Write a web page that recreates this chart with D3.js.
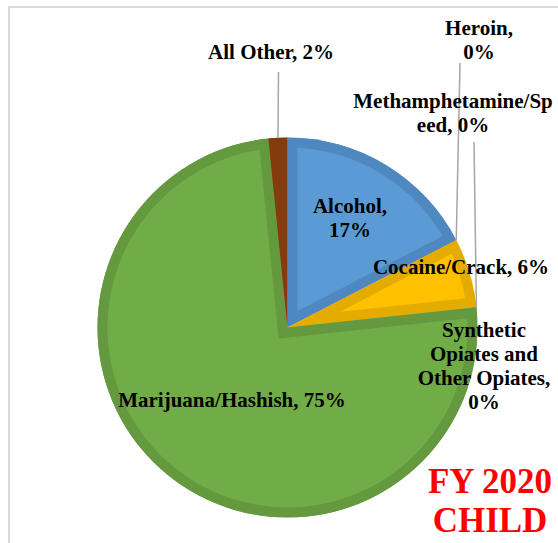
<!DOCTYPE html>
<html>
<head>
<meta charset="utf-8">
<script src="https://cdn.jsdelivr.net/npm/d3@7"></script>
<style>
  html, body { margin: 0; padding: 0; background: #fff; }
  svg { display: block; }
  text { font-family: "Liberation Serif", "Times New Roman", serif; font-weight: bold; }
</style>
</head>
<body>
<svg id="chart" width="558" height="543"></svg>
<script>
// ---- data ----
const categories = ["Alcohol", "Heroin", "Cocaine/Crack", "Methamphetamine/Speed",
                    "Synthetic Opiates and Other Opiates", "Marijuana/Hashish", "All Other"];
const values = [17.4, 0, 5.9, 0, 0, 75.1, 1.6];
const titleLines = ["FY 2020", "CHILD"];

// ---- styles ----
const fills = ["#5b9bd5", "#4472c4", "#ffc000", "#a5a5a5", "#ed7d31", "#70ad47", "#8f410f"];
const bands = ["#4f88c0", "#3b64ad", "#e5ac00", "#939393", "#d46f2b", "#64993f", "#843b0d"];

// label layout (text lines, anchor position, optional leader start)
const labelLayout = {
  "Alcohol": { lines: ["Alcohol,", "{p}"], x: 350, y: 213 },
  "Heroin": { lines: ["Heroin,", "{p}"], x: 479, y: 35, leader: [460, 63] },
  "Cocaine/Crack": { lines: ["Cocaine/Crack, {p}"], x: 461, y: 274 },
  "Methamphetamine/Speed": { lines: ["Methamphetamine/Sp", "eed, {p}"], x: 453, y: 108, leader: [474, 142] },
  "Synthetic Opiates and Other Opiates": { lines: ["Synthetic", "Opiates and", "Other Opiates,", "{p}"], x: 484, y: 337 },
  "Marijuana/Hashish": { lines: ["Marijuana/Hashish, {p}"], x: 232, y: 407 },
  "All Other": { lines: ["All Other, {p}"], x: 271, y: 59, leader: [278.5, 72] }
};

const svg = d3.select("#chart");
const W = 558, H = 543;
const cx = 287.5, cy = 327.5, R = 190;
const fontSize = 21, lineH = 24;

// chart border
svg.append("rect")
  .attr("x", 9).attr("y", 7)
  .attr("width", W + 20).attr("height", H + 20)
  .attr("fill", "none").attr("stroke", "#d9d9d9").attr("stroke-width", 2);

const total = d3.sum(values);
const data = categories.map((c, i) => ({ name: c, value: values[i], i }));

const pie = d3.pie().sort(null).value(d => d.value).startAngle(0).endAngle(2 * Math.PI);
const arcs = pie(data);
const arc = d3.arc().innerRadius(0).outerRadius(R);

const g = svg.append("g").attr("transform", `translate(${cx},${cy})`);
const defs = svg.append("defs");

arcs.forEach((a, k) => {
  if (a.data.value <= 0) return;
  const id = "clip" + k;
  defs.append("clipPath").attr("id", id)
    .attr("transform", `translate(${cx},${cy})`)
    .append("path").attr("d", arc(a));
  g.append("path")
    .attr("d", arc(a))
    .attr("fill", fills[a.data.i]);
  g.append("path")
    .attr("d", arc(a))
    .attr("fill", "none")
    .attr("stroke", bands[a.data.i])
    .attr("stroke-width", 20)
    .attr("stroke-linejoin", "miter")
    .attr("clip-path", `url(#${id})`)
    .attr("transform", null);
});

// fix clip-path coordinate systems: put clip inside group's coords
defs.selectAll("clipPath").attr("transform", null);

// leader lines
const pointOnArc = (angle, r) => [cx + r * Math.sin(angle), cy - r * Math.cos(angle)];
arcs.forEach(a => {
  const L = labelLayout[a.data.name];
  if (!L || !L.leader) return;
  const mid = (a.startAngle + a.endAngle) / 2;
  const [px, py] = pointOnArc(mid, R);
  svg.append("line")
    .attr("x1", L.leader[0]).attr("y1", L.leader[1])
    .attr("x2", px).attr("y2", py)
    .attr("stroke", "#a6a6a6").attr("stroke-width", 1.5);
});

// labels
arcs.forEach(a => {
  const L = labelLayout[a.data.name];
  const pct = Math.round(a.data.value / total * 100) + "%";
  const t = svg.append("text")
    .attr("text-anchor", "middle")
    .attr("font-size", fontSize)
    .attr("fill", "#000");
  L.lines.forEach((ln, j) => {
    t.append("tspan")
      .attr("x", L.x)
      .attr("y", L.y + j * lineH)
      .text(ln.replace("{p}", pct));
  });
});

// title
const tt = svg.append("text")
  .attr("text-anchor", "middle")
  .attr("font-size", 35)
  .attr("fill", "#ff0000");
titleLines.forEach((ln, j) => {
  tt.append("tspan").attr("x", 490).attr("y", 493 + j * 39).text(ln);
});
</script>
</body>
</html>
